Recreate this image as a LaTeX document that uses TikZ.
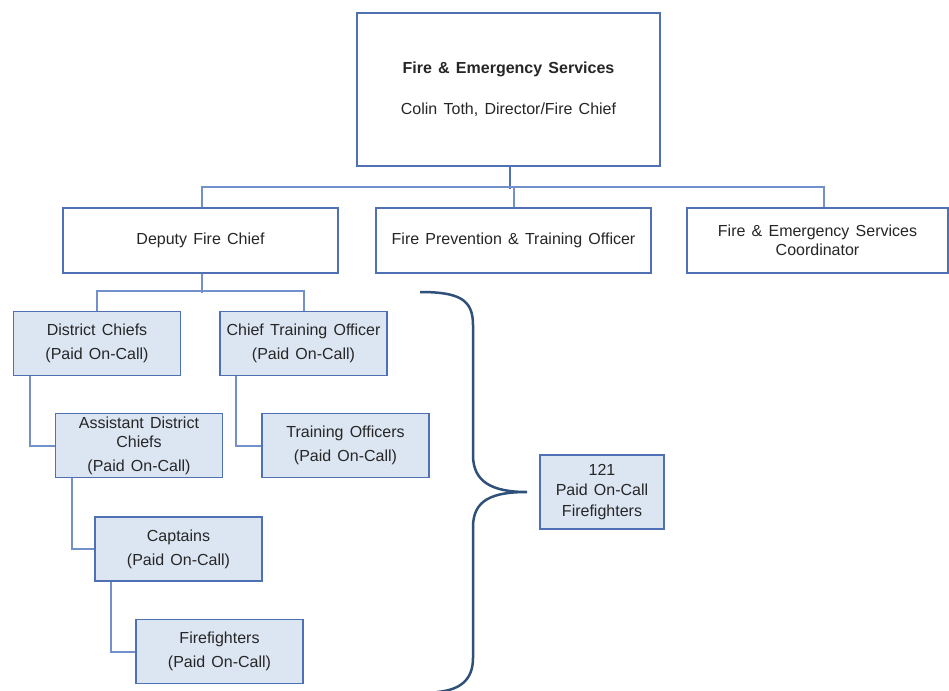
\documentclass[tikz,border=0pt]{standalone}
\usepackage{fontspec}
\setmainfont{Liberation Sans}[WordSpace=1.4]
\definecolor{boxline}{RGB}{79,113,180}
\definecolor{linkline}{RGB}{114,144,202}
\definecolor{boxfill}{RGB}{220,230,242}
\definecolor{braceline}{RGB}{47,80,120}
\tikzset{
  unit/.style={draw=boxline,line width=1.3pt,align=center,inner sep=2pt,
    font=\fontsize{16}{19}\selectfont,text=black!85},
  link/.style={draw=linkline,line width=2pt}
}
\begin{document}
\begin{tikzpicture}[x=1pt,y=-1pt]
        \useasboundingbox (0,0) rectangle (949,690);

        \begin{scope}[every node/.style={unit,fill=white}]
          \node[minimum width=303pt,minimum height=153pt] (fes) at (508.5,89.5)
            {\textbf{Fire \& Emergency Services}\\[22pt]Colin Toth, Director/Fire Chief};
          \node[minimum width=275pt,minimum height=65pt] (deputy)     at (200.5,240.5) {Deputy Fire Chief};
          \node[minimum width=275pt,minimum height=65pt] (prevention) at (513.5,240.5) {Fire Prevention \& Training Officer};
          \node[minimum width=261pt,minimum height=65pt] (coord)      at (817.5,240.5) {Fire \& Emergency Services\\Coordinator};
        \end{scope}

        \begin{scope}[every node/.style={unit,fill=boxfill,minimum width=167pt,minimum height=64pt}]
          \node (district) at (97,343.5)    {District Chiefs\\[5pt](Paid On-Call)};
          \node (cto)      at (303.5,343.5) {Chief Training Officer\\[5pt](Paid On-Call)};
          \node (adc)      at (139,445.5)   {Assistant District\\Chiefs\\[5pt](Paid On-Call)};
          \node (trainers) at (345.5,445.5) {Training Officers\\[5pt](Paid On-Call)};
          \node (captains) at (178.5,549)   {Captains\\[5pt](Paid On-Call)};
          \node (ff)       at (219.5,651.5) {Firefighters\\[5pt](Paid On-Call)};
          \node[minimum width=124pt,minimum height=74pt,font=\fontsize{16}{20.5}\selectfont] (total) at (602,492)
            {121\\Paid On-Call\\Firefighters};
        \end{scope}

        \begin{scope}[every path/.style={link}]
          \path[line width=2.5pt,draw=boxline] ([xshift=1.5pt]fes.south) -- ++(0,22);
          \path ([xshift=1.5pt]deputy.north) -- ++(0,-20) -| ([xshift=6.5pt]coord.north);
          \path (prevention.north) -- ++(0,-20);
          \path ([xshift=1.5pt]deputy.south) -- ++(0,19);
          \path (district.north) -- ++(0,-20) -| (cto.north);
          \path ([xshift=17pt]district.south west) |- (adc.west);
          \path ([xshift=17pt]cto.south west)      |- (trainers.west);
          \path ([xshift=17pt]adc.south west)      |- (captains.west);
          \path ([xshift=17pt]captains.south west) |- (ff.west);
        \end{scope}

        \draw[braceline,line width=2.5pt]
          (420,292) .. controls (460,292) and (473,300) .. (473,325) -- (473,455)
          .. controls (473,482) and (492,492) .. (527,492)
          .. controls (492,492) and (473,500) .. (473,527) -- (473,658)
          .. controls (473,680) and (460,690) .. (437,692);

      \end{tikzpicture}
\end{document}
